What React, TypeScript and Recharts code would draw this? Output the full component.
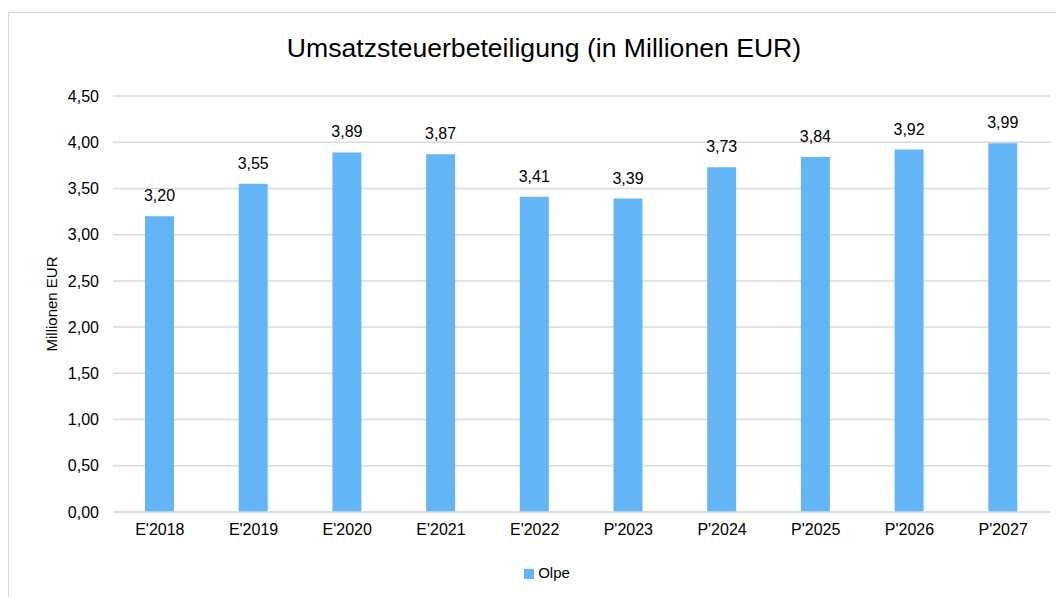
import React from 'react';
import { BarChart, Bar, XAxis, YAxis, CartesianGrid, Legend, LabelList, Label } from 'recharts';

const categories = ["E'2018", "E'2019", "E'2020", "E'2021", "E'2022", "P'2023", "P'2024", "P'2025", "P'2026", "P'2027"];
const olpe = [3.2, 3.55, 3.89, 3.87, 3.41, 3.39, 3.73, 3.84, 3.92, 3.99];
const yTicks = [0, 0.5, 1, 1.5, 2, 2.5, 3, 3.5, 4, 4.5];

const data = categories.map((c, i) => ({ name: c, Olpe: olpe[i] }));

const FONT = '"Liberation Sans", Arial, sans-serif';
const fmt = (v: number) => v.toFixed(2).replace('.', ',');

const YLabel = (props: any) => {
  const vb = props.viewBox || { x: 0, y: 0, width: 0, height: 0 };
  const x = vb.x + 48.5;
  const y = vb.y + vb.height / 2;
  return (
    <text x={x} y={y} transform={`rotate(-90, ${x}, ${y})`} textAnchor="middle" fontSize={15} fill="#000" fontFamily={FONT}>
      Millionen EUR
    </text>
  );
};

export default function App() {
  return (
    <div style={{ position: 'relative', width: 1056, height: 589, overflow: 'hidden', fontFamily: FONT }}>
      <div style={{ position: 'absolute', left: 0, top: 4, width: 1200, height: 800, border: '1px solid #d9d9d9', boxSizing: 'border-box' }} />
      <div style={{ position: 'absolute', left: 36, top: 25, width: 1000, textAlign: 'center', fontSize: 26.6, whiteSpace: 'nowrap', color: '#000', lineHeight: '30px' }}>
        Umsatzsteuerbeteiligung (in Millionen EUR)
      </div>
      <div style={{ position: 'absolute', left: 0, top: 0 }}>
        <BarChart width={1056} height={589} data={data} margin={{ top: 88, right: 14, bottom: 55, left: 0 }}>
          <CartesianGrid vertical={false} stroke="#d9d9d9" strokeWidth={1.5} />
          <XAxis dataKey="name" tickLine={false} axisLine={{ stroke: '#d9d9d9', strokeWidth: 1.5 }} tick={{ fontSize: 16, fill: '#000', fontFamily: FONT }} tickMargin={6} height={30} />
          <YAxis domain={[0, 4.5]} ticks={yTicks} tickFormatter={fmt} tickLine={false} axisLine={false} width={105} tickMargin={8} tick={{ fontSize: 16, fill: '#000', fontFamily: FONT }} interval={0}>
            <Label content={<YLabel />} />
          </YAxis>
          <Legend layout="horizontal" verticalAlign="middle" align="center" iconType="square" iconSize={10}
            wrapperStyle={{ left: 484, top: 556, width: 120, fontSize: 15, fontFamily: FONT, color: '#000' }}
            formatter={(v: string) => <span style={{ color: '#000' }}>{v}</span>} />
          <Bar dataKey="Olpe" fill="#64b5f6" barSize={29} isAnimationActive={false}>
            <LabelList dataKey="Olpe" position="top" offset={15} formatter={(v: any) => fmt(Number(v))} style={{ fontSize: 16, fill: '#000', fontFamily: FONT }} />
          </Bar>
        </BarChart>
      </div>
    </div>
  );
}
